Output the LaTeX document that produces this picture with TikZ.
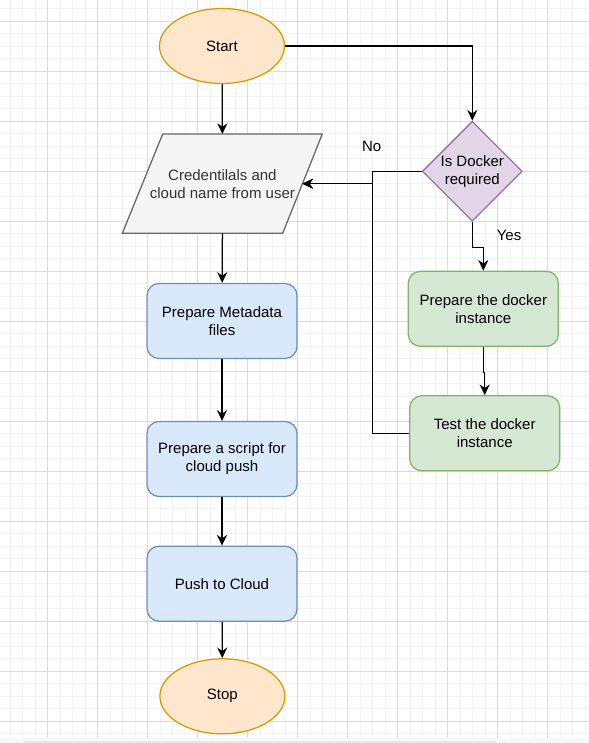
\documentclass[tikz,border=0pt]{standalone}
\usepackage{fontspec}
\setmainfont{Liberation Sans}
\usepackage{xcolor}
\usepackage{tikz}
\usetikzlibrary{arrows.meta,positioning,shapes.geometric,calc}

\definecolor{termfill}{HTML}{FFE6CC}
\definecolor{termline}{HTML}{D79B00}
\definecolor{iofill}{HTML}{F5F5F5}
\definecolor{ioline}{HTML}{666666}
\definecolor{iotext}{HTML}{333333}
\definecolor{decfill}{HTML}{E1D5E7}
\definecolor{decline}{HTML}{9673A6}
\definecolor{procfill}{HTML}{DAE8FC}
\definecolor{procline}{HTML}{6C8EBF}
\definecolor{dockfill}{HTML}{D5E8D4}
\definecolor{dockline}{HTML}{82B366}
\definecolor{gridmajor}{HTML}{DCDCDC}
\definecolor{gridminor}{HTML}{F3F3F3}

\begin{document}
\begin{tikzpicture}[x=0.75pt, y=-0.75pt,
    font=\fontsize{11.25pt}{13.5pt}\selectfont,
    terminal/.style={ellipse, draw=termline, fill=termfill, line width=0.94pt, minimum width=93.75pt, minimum height=56.25pt, inner sep=0pt},
    inputbox/.style={draw=ioline, fill=iofill, line width=0.94pt},
    decision/.style={diamond, aspect=1, draw=decline, fill=decfill, line width=0.94pt, minimum size=75pt, inner sep=0pt, align=center},
    process/.style={rectangle, rounded corners=9pt, draw=procline, fill=procfill, line width=0.94pt, minimum width=112.5pt, minimum height=56.25pt, align=center},
    dockbox/.style={process, draw=dockline, fill=dockfill},
    arrow/.style={-{Stealth[length=8pt, width=7.5pt, inset=2.6pt]}, line width=0.94pt}
]
    \useasboundingbox (0,0) rectangle (589,743);

    % Grid
    \foreach \gx in {10,22.5,...,589} \draw[gridminor, line width=0.75pt] (\gx,0) -- (\gx,738.3);
    \foreach \gy in {8.8,21.3,...,738} \draw[gridminor, line width=0.75pt] (0,\gy) -- (589,\gy);
    \foreach \gx in {47.5,97.5,...,589} \draw[gridmajor, line width=0.75pt] (\gx,0) -- (\gx,738.3);
    \foreach \gy in {21.3,71.3,...,738} \draw[gridmajor, line width=0.75pt] (0,\gy) -- (589,\gy);
    \fill[gray!6] (0,738.3) rectangle (589,743);
    \fill[gray!18, rounded corners=1pt] (24,741) rectangle (496,744);

    % Main column
    \node[terminal] (start) at (222,46) {Start};
    \draw[inputbox] (122.3,233.3) -- (282.7,233.3) -- (322.3,134) -- (162.7,134) -- cycle;
    \node[text=iotext, align=center] (input) at (222.4,183.7) {Credentilals and\\cloud name from user};
    \coordinate (inputright) at (302.4,183.7);
    \coordinate (inputtop) at (222.4,134);
    \coordinate (inputbottom) at (222.4,233.3);
    \node[process] (meta) at (222,321) {Prepare Metadata\\files};
    \node[process] (script) at (222,459) {Prepare a script for\\cloud push};
    \node[process] (push) at (222,583.7) {Push to Cloud};
    \node[terminal] (stop) at (222.4,696.3) {Stop};

    % Docker branch
    \node[decision] (docker) at (472.3,171.3) {Is Docker\\required};
    \node[dockbox] (prep) at (483.3,308.8) {Prepare the docker\\instance};
    \node[dockbox] (test) at (484.7,433.3) {Test the docker\\instance};
    \coordinate (bus) at (372.5,183.7);

    % Labels
    \node (no) at (371.7,146.7) {No};
    \node (yes) at (509,235) {Yes};

    % Arrows
    \draw[arrow] (start) -- (inputtop);
    \draw[arrow] (inputbottom) -- (meta);
    \draw[arrow] (meta) -- (script);
    \draw[arrow] (script) -- (push);
    \draw[arrow] (push) -- (stop);
    \draw[arrow] (start.east) -| (docker.north);
    \draw[arrow] (docker.west) -| (bus) |- (inputright);
    \draw[arrow] (docker.south) -- ++(0,25.5) -| (prep.north);
    \draw[arrow] (prep.south) -- ++(0,25.5) -| (test.north);
    \draw[arrow] (test.west) -| (bus) |- (inputright);
\end{tikzpicture}
\end{document}
